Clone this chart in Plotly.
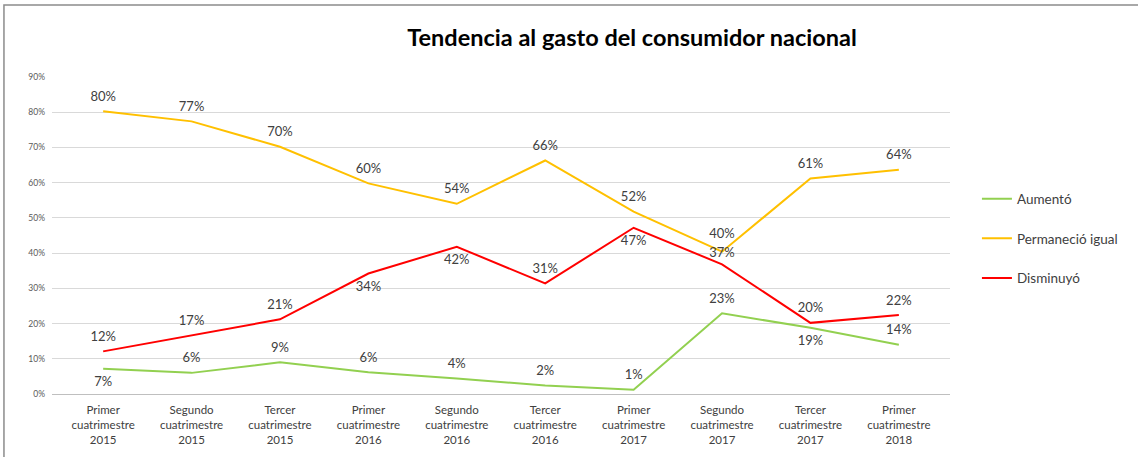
import plotly.graph_objects as go

# Period labels (x axis)
periodos = [
    "Primer<br>cuatrimestre<br>2015",
    "Segundo<br>cuatrimestre<br>2015",
    "Tercer<br>cuatrimestre<br>2015",
    "Primer<br>cuatrimestre<br>2016",
    "Segundo<br>cuatrimestre<br>2016",
    "Tercer<br>cuatrimestre<br>2016",
    "Primer<br>cuatrimestre<br>2017",
    "Segundo<br>cuatrimestre<br>2017",
    "Tercer<br>cuatrimestre<br>2017",
    "Primer<br>cuatrimestre<br>2018",
]

# Share of consumers per answer
aumento = [0.072, 0.060, 0.090, 0.062, 0.044, 0.024, 0.012, 0.229, 0.188, 0.140]
permanecio = [0.803, 0.774, 0.702, 0.598, 0.540, 0.663, 0.518, 0.404, 0.612, 0.637]
disminuyo = [0.121, 0.166, 0.212, 0.342, 0.418, 0.314, 0.472, 0.368, 0.202, 0.224]

# Placement of each data label
pos_aumento = ["bottom center", "top center", "top center", "top center", "top center",
               "top center", "top center", "top center", "bottom center", "top center"]
pos_permanecio = ["top center"] * 10
pos_disminuyo = ["top center", "top center", "top center", "bottom center", "bottom center",
                 "top center", "bottom center", "top center", "top center", "top center"]

# Label clearance from the line (invisible marker size); widened/narrowed
# where the yellow and red labels sit close together
gap_aumento = [10] * 10
gap_permanecio = [10] * 7 + [15] + [10] * 2
gap_disminuyo = [10] * 7 + [5] + [10] * 2

series = [
    ("Aumentó", aumento, "#92D050", pos_aumento, gap_aumento),
    ("Permaneció igual", permanecio, "#FFC000", pos_permanecio, gap_permanecio),
    ("Disminuyó", disminuyo, "#FF0000", pos_disminuyo, gap_disminuyo),
]

FONT = "Lato"
fig = go.Figure()
for name, vals, color, pos, gap in series:
    fig.add_trace(go.Scatter(
        x=periodos, y=vals, name=name, legendgroup=name,
        mode="lines+markers+text",
        line=dict(color=color, width=2),
        marker=dict(size=gap, color="rgba(0,0,0,0)",
                    line=dict(width=0, color="rgba(0,0,0,0)")),
        text=vals, texttemplate="%{y:.0%}", textposition=pos,
        textfont=dict(family=FONT, size=13, color="#404040"),
        hoverinfo="skip",
    ))

fig.update_layout(
    width=1138, height=457,
    margin=dict(l=52, r=188, t=77, b=63),
    paper_bgcolor="white", plot_bgcolor="white",
    title=dict(text="<b>Tendencia al gasto del consumidor nacional</b>",
               font=dict(family=FONT, size=23.5, color="black"),
               x=0.5554, xanchor="center", y=0.917, yanchor="middle"),
    legend=dict(x=1.03, xanchor="left", y=0.664, yanchor="top",
                traceorder="grouped", tracegroupgap=19,
                font=dict(family=FONT, size=13.5, color="#404040"),
                bgcolor="rgba(0,0,0,0)"),
    showlegend=True,
)

fig.update_xaxes(
    showgrid=False, showline=True, linecolor="#bfbfbf", linewidth=1,
    ticks="", tickfont=dict(family=FONT, size=11.5, color="#404040"),
    ticklabelstandoff=5,
    fixedrange=True,
)
fig.update_yaxes(
    range=[0, 0.9], dtick=0.1, tickformat=".0%",
    showgrid=True, gridcolor="#d9d9d9", gridwidth=1,
    zeroline=False, showline=False, ticks="",
    tickfont=dict(family=FONT, size=8.5, color="#595959"),
    ticklabelstandoff=6,
    fixedrange=True,
)

# Outer chart frame
fig.add_shape(type="rect", xref="paper", yref="paper",
              x0=-0.0535, x1=1.215, y0=-0.21, y1=1.2268,
              line=dict(color="#8c8c8c", width=1.5), fillcolor="rgba(0,0,0,0)",
              layer="below")

fig.write_html("out.html")
